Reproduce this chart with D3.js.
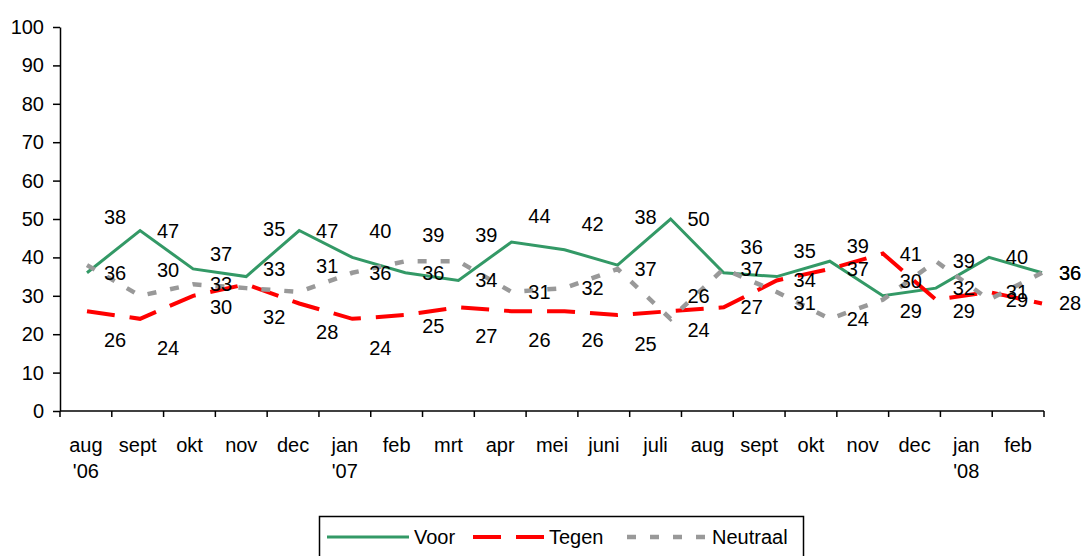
<!DOCTYPE html>
<html>
<head>
<meta charset="utf-8">
<script src="https://cdn.jsdelivr.net/npm/d3@7"></script>
<style>
  body { margin: 0; background: #fff; }
  svg { display: block; font-family: "Liberation Sans", Arial, sans-serif; }
  .lbl { font-size: 20px; fill: #000; }
</style>
</head>
<body>
<div id="chart"></div>
<script>
// maanden (eerste regel / tweede regel van het label)
const months = ["aug", "sept", "okt", "nov", "dec", "jan", "feb", "mrt", "apr", "mei",
  "juni", "juli", "aug", "sept", "okt", "nov", "dec", "jan", "feb"];
const years = ["'06", "", "", "", "", "'07", "", "", "", "", "", "", "", "", "", "", "", "'08", ""];

const voor     = [36, 47, 37, 35, 47, 40, 36, 34, 44, 42, 38, 50, 36, 35, 39, 30, 32, 40, 36];
const tegen    = [26, 24, 30, 33, 28, 24, 25, 27, 26, 26, 25, 26, 27, 34, 37, 41, 29, 31, 28];
const neutraal = [38, 30, 33, 32, 31, 36, 39, 39, 31, 32, 37, 24, 37, 31, 24, 29, 39, 29, 36];

const yTicks = [0, 10, 20, 30, 40, 50, 60, 70, 80, 90, 100];

// plaats van de datalabels (zoals in excel: boven / rechts / onder)
const voorPos     = "r r h A r a r r a a A r a a h h r r r".split(" ");
const tegenPos    = "b b l h b b l b b b b h r r r r l r r".split(" ");
const neutraalPos = "A a r b a r a a r r r l r l r l r r r".split(" ");
const posShift = { A: -48, a: -26, h: -15, r: 0, l: 11, b: 29 };

const width = 1086, height = 556;
const margin = { top: 27, left: 60, right: 42, bottom: 145 };
const plotRight = width - margin.right;
const plotBottom = height - margin.bottom;

const cats = months.map((m, i) => i);

const svg = d3.select("#chart").append("svg")
  .attr("width", width)
  .attr("height", height);

const y = d3.scaleLinear().domain([0, 100]).range([plotBottom, margin.top]);

// categorie-as (vakken tussen de streepjes)
const xBand = d3.scaleBand().domain(cats).range([margin.left, plotRight]);
// de lijnen zelf
const xLine = d3.scalePoint().domain(cats).range([margin.left + 27, plotRight - 2]);

// Y axis
svg.append("g")
  .attr("transform", "translate(" + margin.left + ",0)")
  .call(d3.axisLeft(y).tickValues(yTicks).tickSize(7).tickPadding(9).tickSizeOuter(0))
  .call(g => g.selectAll("text").attr("font-size", 20).attr("font-family", "Liberation Sans, Arial").attr("fill", "#000"))
  .call(g => g.selectAll("line, path").attr("stroke", "#000").attr("stroke-width", 1.5));

// X axis
const xAxis = svg.append("g").attr("transform", "translate(0," + plotBottom + ")");
xAxis.append("line")
  .attr("x1", margin.left).attr("x2", plotRight)
  .attr("stroke", "#000").attr("stroke-width", 1.5);
xAxis.selectAll(".tick")
  .data(cats.concat([cats.length]))
  .join("line")
  .attr("class", "tick")
  .attr("x1", d => d < cats.length ? xBand(d) : plotRight)
  .attr("x2", d => d < cats.length ? xBand(d) : plotRight)
  .attr("y1", 0).attr("y2", 6)
  .attr("stroke", "#000").attr("stroke-width", 1.5);

const xLabels = xAxis.selectAll(".xlab")
  .data(cats)
  .join("text")
  .attr("class", "lbl xlab")
  .attr("text-anchor", "middle")
  .attr("x", d => xBand(d) + xBand.bandwidth() / 2)
  .attr("y", 41);
xLabels.append("tspan").text(d => months[d]);
xLabels.append("tspan")
  .attr("x", d => xBand(d) + xBand.bandwidth() / 2)
  .attr("dy", 26)
  .text(d => years[d]);

const series = [
  { name: "Voor", values: voor, pos: voorPos, color: "#339966", w: 3, dash: null },
  { name: "Tegen", values: tegen, pos: tegenPos, color: "#ff0000", w: 4, dash: "28,15" },
  { name: "Neutraal", values: neutraal, pos: neutraalPos, color: "#999999", w: 4.5, dash: "9,14" }
];

const line = d3.line()
  .x((d, i) => xLine(i))
  .y(d => y(d));

svg.selectAll(".serie")
  .data(series)
  .join("path")
  .attr("class", "serie")
  .attr("d", d => line(d.values))
  .attr("fill", "none")
  .attr("stroke", d => d.color)
  .attr("stroke-width", d => d.w)
  .attr("stroke-dasharray", d => d.dash);

// data labels
series.forEach(s => {
  svg.selectAll(".v-" + s.name)
    .data(s.values)
    .join("text")
    .attr("class", "lbl v-" + s.name)
    .attr("text-anchor", "middle")
    .attr("x", (d, i) => xLine(i) + 28)
    .attr("y", (d, i) => y(d) + posShift[s.pos[i]] + 7)
    .text(d => d);
});

// legend
const legend = svg.append("g");
legend.append("rect")
  .attr("x", 319.5).attr("y", 516.5)
  .attr("width", 484).attr("height", 60)
  .attr("fill", "#fff").attr("stroke", "#000").attr("stroke-width", 1.5);

const legendX = [327, 473, 627];
const legendLen = [82, 71, 80];
series.forEach((s, i) => {
  legend.append("line")
    .attr("x1", legendX[i]).attr("x2", legendX[i] + legendLen[i])
    .attr("y1", 537).attr("y2", 537)
    .attr("stroke", s.color)
    .attr("stroke-width", s.w)
    .attr("stroke-dasharray", s.dash);
  legend.append("text")
    .attr("class", "lbl")
    .attr("x", legendX[i] + legendLen[i] + 5)
    .attr("y", 544)
    .text(s.name);
});
</script>
</body>
</html>
